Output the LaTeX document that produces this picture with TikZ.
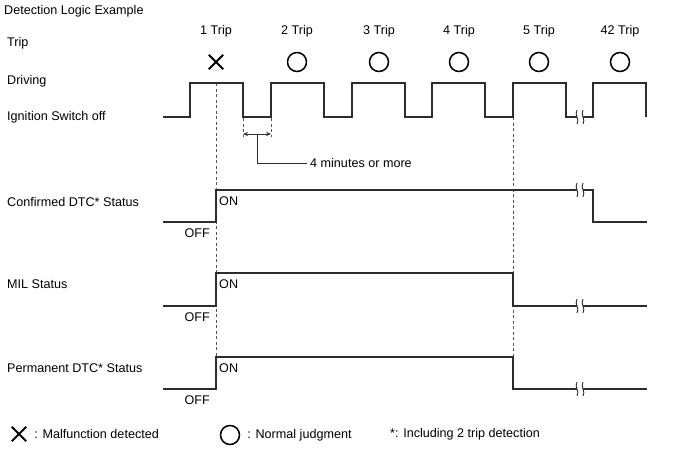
\documentclass[tikz,border=0pt]{standalone}
\usepackage{fontspec}
\setmainfont{Liberation Sans}
\usetikzlibrary{arrows.meta, positioning, calc}
\definecolor{wave}{RGB}{45,45,45}
\definecolor{guide}{RGB}{85,85,85}
\newcommand{\wavebreak}[2]{%
  \fill[white] (#1-3,#2-7) rectangle (#1+3,#2+7);
  \draw[wave, line width=0.9pt] (#1-3,#2-7) .. controls (#1-6,#2-2) and (#1,#2+2) .. (#1-3,#2+7);
  \draw[wave, line width=0.9pt] (#1+3,#2-7) .. controls (#1,#2-2) and (#1+6,#2+2) .. (#1+3,#2+7);
}

\begin{document}
\begin{tikzpicture}[x=1pt, y=-1pt, >=Stealth]
  \tikzstyle{caption} = [anchor=west, inner sep=0pt, font=\fontsize{12.6}{14}\selectfont]
  \tikzstyle{level} = [inner sep=0pt, font=\fontsize{12.6}{14}\selectfont]
  \tikzstyle{signal} = [draw=wave, line width=1.3pt]
  \tikzstyle{guideline} = [draw=guide, line width=0.9pt, dash pattern=on 3pt off 2.5pt]
  \tikzstyle{okmark} = [circle, draw=black, line width=1.5pt, minimum size=19pt, inner sep=0pt]
  \tikzstyle{ngmark} = [minimum size=14pt, inner sep=0pt]
  \useasboundingbox (0,0) rectangle (688,463);

  % Left column: row captions
  \node [caption] (title) at (4,11) {Detection Logic Example};
  \node [caption] (trip) at (7,43) {Trip};
  \node [caption] (driving) at (7,81) {Driving};
  \node [caption] (igoff) at (7,117) {Ignition Switch off};
  \node [caption] (confirmed) at (7,202) {Confirmed DTC* Status};
  \node [caption] (mil) at (7,284) {MIL Status};
  \node [caption] (permanent) at (7,368) {Permanent DTC* Status};

  % Trip numbers and judgments
  \foreach \x/\n in {216/1, 297/2, 379/3, 459/4, 539/5, 620/42}
    \node [level] (trip\n) at (\x,31) {\n{} Trip};
  \node [ngmark] (judge1) at (216,62) {};
  \draw[black, line width=2pt] (judge1.north west) -- (judge1.south east);
  \draw[black, line width=2pt] (judge1.south west) -- (judge1.north east);
  \foreach \x/\n in {297/2, 379/3, 459/4, 539/5, 620/42}
    \node [okmark] (judge\n) at (\x,62) {};

  % Guide lines
  \draw[guideline] (216,83) -- (216,357);
  \draw[guideline] (513,117) -- (513,357);

  % Driving / Ignition Switch off
  \draw[signal] (163,117) foreach \r in {190,271,352,432,513,593} { -- (\r,117) -- (\r,83) -- ({\r+53},83) -- ({\r+53},117) };
  \wavebreak{580}{117}

  % Off time of 4 minutes or more
  \coordinate (gapL) at (243,134);
  \coordinate (gapR) at (271,134);
  \coordinate (gapM) at (257,134);
  \draw[guideline] (243,118) -- (gapL) -- ++(0,3);
  \draw[guideline] (271,118) -- (gapR) -- ++(0,3);
  \draw[<->, wave, line width=0.8pt, >={Stealth[length=5pt, width=4pt]}] (gapL) -- (gapR);
  \node [caption, inner xsep=3pt] (minutes) at (307,163) {4 minutes or more};
  \draw[wave, line width=1pt] (gapM) |- (minutes.west);

  % Confirmed DTC status
  \draw[signal] (163,222) -- (216,222) -- (216,190) -- (593,190) -- (593,222) -- (647,222);
  \wavebreak{580}{190}
  \node [level, anchor=east] (confOff) at (210,233) {OFF};
  \node [level, anchor=west] (confOn) at (219,201) {ON};

  % MIL status
  \draw[signal] (163,306) -- (216,306) -- (216,273) -- (513,273) -- (513,306) -- (647,306);
  \wavebreak{580}{306}
  \node [level, anchor=east] (milOff) at (210,317) {OFF};
  \node [level, anchor=west] (milOn) at (219,284) {ON};

  % Permanent DTC status
  \draw[signal] (163,389) -- (216,389) -- (216,357) -- (513,357) -- (513,389) -- (647,389);
  \wavebreak{580}{389}
  \node [level, anchor=east] (permOff) at (210,400) {OFF};
  \node [level, anchor=west] (permOn) at (219,368) {ON};

  % Legend
  \node [ngmark] (keyNg) at (19,434) {};
  \draw[black, line width=2pt] (keyNg.north west) -- (keyNg.south east);
  \draw[black, line width=2pt] (keyNg.south west) -- (keyNg.north east);
  \node [caption, right=8pt of keyNg] (keyNgText) {: Malfunction detected};
  \node [okmark] (keyOk) at (230,435) {};
  \node [caption, right=7pt of keyOk] (keyOkText) {: Normal judgment};
  \node [caption] (keyStar) at (390,434) {*: Including 2 trip detection};
\end{tikzpicture}
\end{document}
